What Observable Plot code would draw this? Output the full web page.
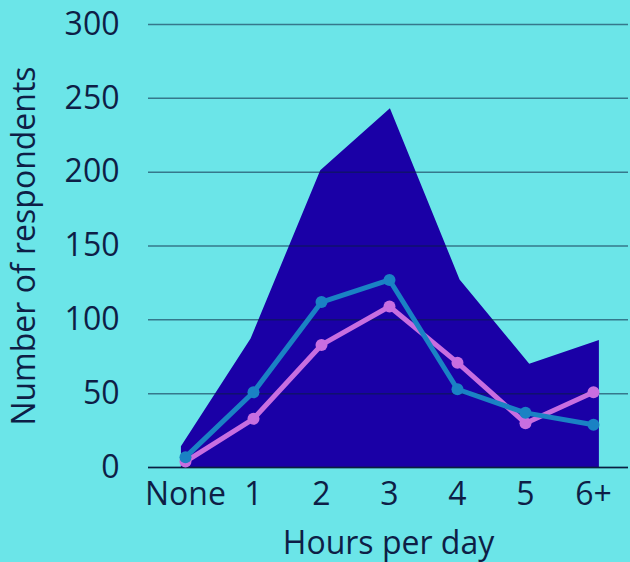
<!DOCTYPE html>
<html><head><meta charset="utf-8">
<script src="https://cdn.jsdelivr.net/npm/d3@7"></script>
<script src="https://cdn.jsdelivr.net/npm/@observablehq/plot@0.6"></script>
<style>
html,body{margin:0;padding:0;background:#6be5e8;}
</style></head><body><div id="chart"></div>
<script>
const categories = ["None", "1", "2", "3", "4", "5", "6+"];
const totalRespondents = [14, 87, 201, 243, 127, 70, 86];
const seriesPurple = [4, 33, 83, 109, 71, 30, 51];
const seriesBlue = [7, 51, 112, 127, 53, 37, 29];
const yTicks = [0, 50, 100, 150, 200, 250, 300];

const idx = categories.map((_, i) => i);
// area is drawn slightly wider than the point positions
const areaSpread = 1.0245, areaShift = -0.06;
const areaData = categories.map((c, i) => ({x: areaShift + i * areaSpread, y: totalRespondents[i]}));
const purpleData = categories.map((c, i) => ({x: i, y: seriesPurple[i]}));
const blueData = categories.map((c, i) => ({x: i, y: seriesBlue[i]}));

const textColor = "#0e1e46";
const chart = Plot.plot({
  width: 630, height: 562,
  marginTop: 24, marginBottom: 95, marginLeft: 148, marginRight: 2,
  style: {background: "#6be5e8", color: textColor, fontFamily: "'Open Sans', sans-serif", fontSize: "32px", fontWeight: 500},
  x: {type: "linear", domain: [-0.544, 6.515]},
  y: {domain: [0, 300]},
  marks: [
    Plot.areaY(areaData, {x: "x", y: "y", fill: "#1a00a6"}),
    Plot.gridY(yTicks, {stroke: "#0a1f40", strokeOpacity: 0.55, strokeWidth: 1.5}),
    Plot.ruleY([0], {stroke: "#0a1f40", strokeWidth: 1.5}),
    Plot.line(purpleData, {x: "x", y: "y", stroke: "#c86ee0", strokeWidth: 5}),
    Plot.dot(purpleData, {x: "x", y: "y", fill: "#c86ee0", r: 6}),
    Plot.line(blueData, {x: "x", y: "y", stroke: "#1a82c4", strokeWidth: 5}),
    Plot.dot(blueData, {x: "x", y: "y", fill: "#1a82c4", r: 6}),
    Plot.axisX(idx, {tickSize: 0, tickPadding: 15, tickFormat: i => categories[i],
      label: "Hours per day", labelAnchor: "center", labelOffset: 86, labelArrow: "none", fontSize: 32}),
    Plot.axisY(yTicks, {tickSize: 0, tickPadding: 29,
      label: "Number of respondents", labelAnchor: "center", labelOffset: 136, labelArrow: "none", fontSize: 32})
  ]
});
document.getElementById("chart").appendChild(chart);
</script></body></html>
